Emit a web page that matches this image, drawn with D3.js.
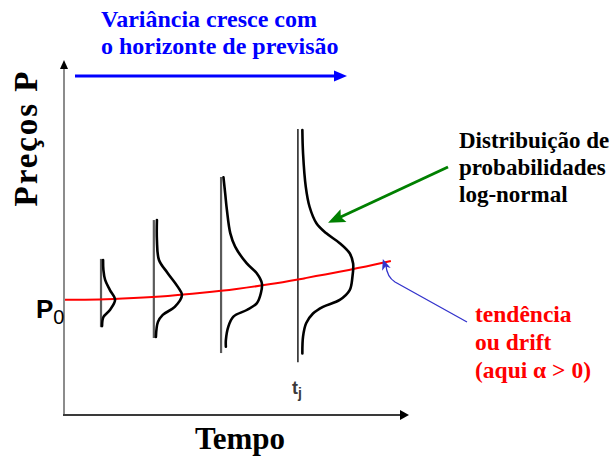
<!DOCTYPE html>
<html>
<head>
<meta charset="utf-8">
<script src="https://cdn.jsdelivr.net/npm/d3@7"></script>
<style>
  body { margin: 0; background: #fff; }
  svg { display: block; }
  .serif { font-family: "Liberation Serif", "Times New Roman", serif; font-weight: bold; }
  .sans { font-family: "Liberation Sans", Arial, sans-serif; }
</style>
</head>
<body>
<div id="chart"></div>
<script>
// tendência (drift) do preço ao longo do tempo
var driftTime  = [0, 10, 20, 30, 40, 50, 60, 70, 80, 90, 95];
var driftPrice = [32.9, 33.0, 33.4, 34.0, 34.9, 36.0, 37.4, 39.1, 40.9, 42.9, 44.0];

// horizontes de previsão onde a distribuição é desenhada
var horizonTime = [10.5, 25.9, 45.5, 67.9];
var axisTop     = [44.6, 55.7, 68.0, 81.7];
var axisBottom  = [25.1, 22.0, 17.7, 15.1];

// curvas log-normais (preço, densidade)
var curve1Price = [44.3, 41.4, 38.6, 35.7, 32.9, 30.0, 28.0, 25.4];
var curve1Dens  = [0.6, 0.7, 1.2, 2.6, 4.1, 2.6, 0.7, 0.3];
var curve2Price = [55.7, 50.0, 44.3, 40.6, 36.6, 34.3, 30.9, 28.6, 26.6, 22.3];
var curve2Dens  = [0.9, 0.9, 1.5, 4.0, 7.0, 8.2, 6.1, 2.6, 1.2, 0.6];
var curve3Price = [67.9, 63.3, 58.6, 51.9, 48.1, 43.3, 40.5, 37.6, 34.8, 31.9, 30.0, 28.1, 25.2, 21.4, 19.5];
var curve3Dens  = [0.7, 1.2, 1.7, 2.7, 4.1, 7.5, 10.4, 11.9, 11.6, 10.4, 7.5, 3.6, 2.1, 1.4, 1.4];
var curve4Price = [81.4, 74.8, 65.2, 59.5, 54.8, 51.9, 49.1, 46.2, 43.3, 39.5, 35.7, 32.9, 30.9, 29.0, 26.2, 22.4, 17.6];
var curve4Dens  = [1.3, 1.5, 2.3, 3.4, 5.4, 8.3, 12.2, 15.1, 16.1, 15.9, 15.1, 12.2, 7.3, 4.4, 2.4, 1.5, 1.3];

// textos
var titleLines = ["Variância cresce com", "o horizonte de previsão"];
var distLines  = ["Distribuição de", "probabilidades", "log-normal"];
var driftLines = ["tendência", "ou drift", "(aqui \u03b1 > 0)"];

var width = 616, height = 457;

var svg = d3.select("#chart").append("svg")
  .attr("width", width)
  .attr("height", height);

var x = d3.scaleLinear().domain([0, 100]).range([65, 408]);
var y = d3.scaleLinear().domain([0, 100]).range([415, 65]);

// desenha uma ponta de seta (tip, direção do ângulo, comprimento, largura, entalhe)
function arrowHead(tip, from, len, wid, notch, color) {
  var a = Math.atan2(tip[1] - from[1], tip[0] - from[0]);
  var c = Math.cos(a), s = Math.sin(a);
  var bx = tip[0] - len * c, by = tip[1] - len * s;
  var p1 = [bx - wid / 2 * s, by + wid / 2 * c];
  var p2 = [bx + wid / 2 * s, by - wid / 2 * c];
  var n = [tip[0] - (len - notch) * c, tip[1] - (len - notch) * s];
  svg.append("path")
    .attr("d", "M" + tip + "L" + p1 + "L" + n + "L" + p2 + "Z")
    .attr("fill", color);
}

// eixos
svg.append("line")
  .attr("x1", x(0) - 1).attr("x2", x(0) - 1)
  .attr("y1", y(0) + 1).attr("y2", 68)
  .attr("stroke", "#8c8c8c").attr("stroke-width", 2);
arrowHead([x(0) - 1, 60], [x(0) - 1, 100], 9, 8, 0, "#000");

svg.append("line")
  .attr("x1", x(0) - 2).attr("x2", 401)
  .attr("y1", y(0)).attr("y2", y(0))
  .attr("stroke", "#3a3a3a").attr("stroke-width", 2);
arrowHead([409, y(0)], [300, y(0)], 9, 10, 0, "#000");

// seta azul do título
svg.append("line")
  .attr("x1", 75).attr("x2", 336)
  .attr("y1", 76).attr("y2", 76)
  .attr("stroke", "#0000ff").attr("stroke-width", 3);
arrowHead([347, 76], [200, 76], 13, 11, 0, "#0000ff");

svg.append("g").selectAll("text")
  .data(titleLines)
  .enter().append("text")
  .attr("class", "serif")
  .attr("x", 101)
  .attr("y", function (d, i) { return 27 + i * 26.5; })
  .attr("font-size", 24)
  .attr("fill", "#0000ff")
  .text(function (d) { return d; });

// eixos das distribuições
var curves = [
  { price: curve1Price, dens: curve1Dens },
  { price: curve2Price, dens: curve2Dens },
  { price: curve3Price, dens: curve3Dens },
  { price: curve4Price, dens: curve4Dens }
];

svg.append("g").selectAll("line")
  .data(horizonTime)
  .enter().append("line")
  .attr("x1", function (d) { return x(d); })
  .attr("x2", function (d) { return x(d); })
  .attr("y1", function (d, i) { return y(axisTop[i]); })
  .attr("y2", function (d, i) { return y(axisBottom[i]); })
  .attr("stroke", function (d, i) { return i == 3 ? "#2a2a2a" : "#5a5a5a"; })
  .attr("stroke-width", function (d, i) { return i == 3 ? 1.6 : 2.2; });

// tendência
var drift = driftTime.map(function (t, i) { return [t, driftPrice[i]]; });
svg.append("path")
  .datum(drift)
  .attr("d", d3.line()
    .x(function (d) { return x(d[0]); })
    .y(function (d) { return y(d[1]); })
    .curve(d3.curveMonotoneX))
  .attr("fill", "none")
  .attr("stroke", "#ff0000")
  .attr("stroke-width", 2);

// curvas de densidade
svg.append("g").selectAll("path")
  .data(curves)
  .enter().append("path")
  .attr("d", function (c, k) {
    var pts = c.price.map(function (p, i) { return [horizonTime[k] + c.dens[i], p]; });
    return d3.line()
      .x(function (d) { return x(d[0]); })
      .y(function (d) { return y(d[1]); })
      .curve(d3.curveCatmullRom)(pts);
  })
  .attr("fill", "none")
  .attr("stroke", "#000")
  .attr("stroke-width", 2.6)
  .attr("stroke-linecap", "round")
  .attr("stroke-linejoin", "round");

// rótulo t_j sob a última distribuição
var tj = svg.append("text")
  .attr("class", "sans")
  .attr("x", x(horizonTime[3]) - 1)
  .attr("y", 394)
  .attr("text-anchor", "middle")
  .attr("font-size", 18)
  .attr("font-weight", "bold")
  .attr("fill", "#3a3a3a");
tj.append("tspan").text("t");
tj.append("tspan").attr("dy", 4).attr("font-size", 14).text("j");

// P0
var p0 = svg.append("text")
  .attr("class", "sans")
  .attr("x", 36)
  .attr("y", y(driftPrice[0]) + 18)
  .attr("font-size", 26)
  .attr("font-weight", "bold")
  .attr("fill", "#000");
p0.append("tspan").text("P");
p0.append("tspan").attr("dy", 6).attr("font-size", 20).attr("font-weight", "normal").text("0");

// rótulos dos eixos
svg.append("text")
  .attr("class", "serif")
  .attr("transform", "translate(37,139) rotate(-90)")
  .attr("text-anchor", "middle")
  .attr("font-size", 33)
  .attr("textLength", 135)
  .attr("lengthAdjust", "spacing")
  .text("Preços P");

svg.append("text")
  .attr("class", "serif")
  .attr("x", 240)
  .attr("y", 449)
  .attr("text-anchor", "middle")
  .attr("font-size", 31)
  .text("Tempo");

// anotação: distribuição log-normal (seta verde)
var greenFrom = [448, 167];
var greenTip = [x(76.7), y(54.9)];
svg.append("line")
  .attr("x1", greenFrom[0]).attr("y1", greenFrom[1])
  .attr("x2", greenTip[0] + 12).attr("y2", greenTip[1] - 5.6)
  .attr("stroke", "#008000").attr("stroke-width", 3);
arrowHead(greenTip, greenFrom, 17, 14, 3, "#008000");

svg.append("g").selectAll("text")
  .data(distLines)
  .enter().append("text")
  .attr("class", "serif")
  .attr("x", 459)
  .attr("y", function (d, i) { return 147.5 + i * 27; })
  .attr("font-size", 23)
  .attr("fill", "#000")
  .text(function (d) { return d; });

// anotação: tendência (seta azul fina)
var blueTip = [x(driftTime[10]) - 8, y(driftPrice[10]) - 2];
svg.append("path")
  .attr("d", "M467,322L395,282Q387,277 " + (blueTip[0] + 3) + "," + (blueTip[1] + 6))
  .attr("fill", "none")
  .attr("stroke", "#3333cc")
  .attr("stroke-width", 1.3);
arrowHead(blueTip, [390, 280], 11, 9, 3, "#3333cc");

svg.append("g").selectAll("text")
  .data(driftLines)
  .enter().append("text")
  .attr("class", "serif")
  .attr("x", 475)
  .attr("y", function (d, i) { return 322 + i * 28; })
  .attr("font-size", 23.5)
  .attr("fill", "#ff0000")
  .text(function (d) { return d; });
</script>
</body>
</html>
